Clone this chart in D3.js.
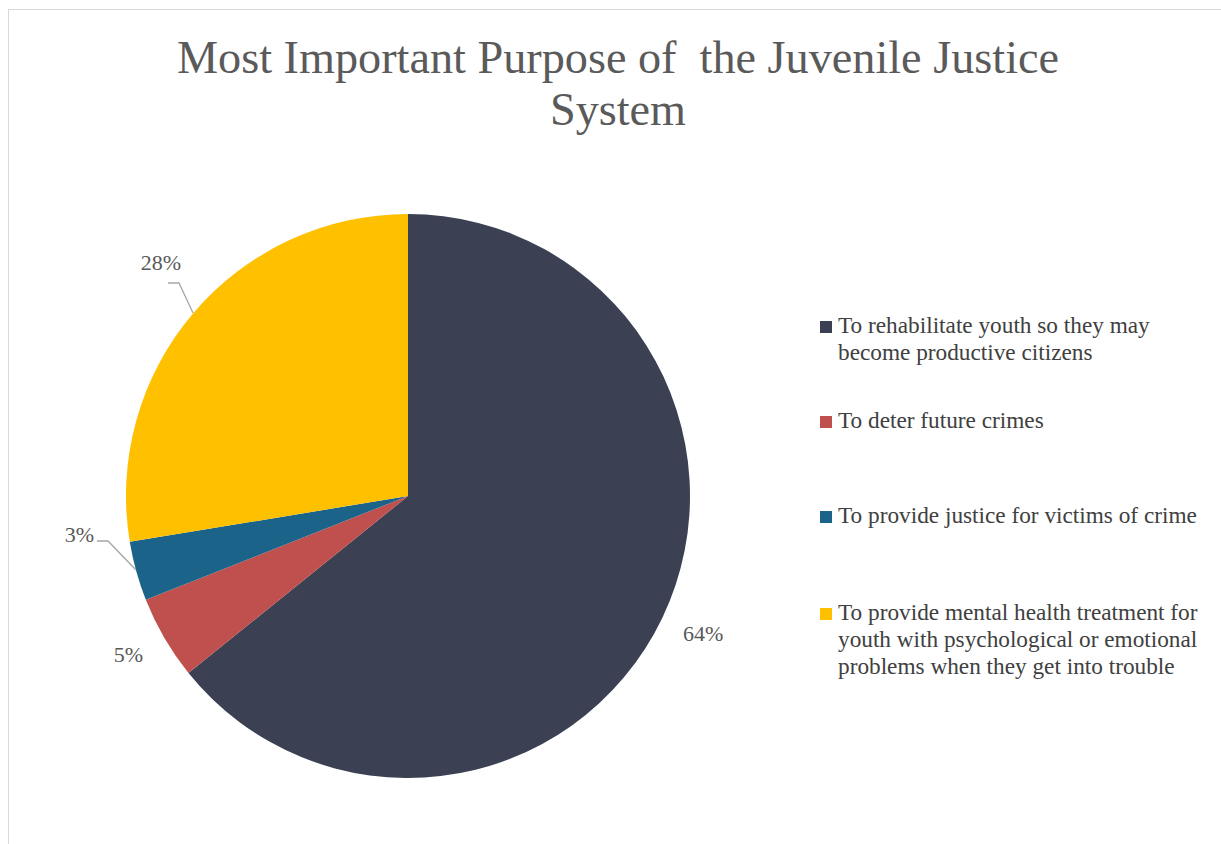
<!DOCTYPE html>
<html><head><meta charset="utf-8">
<script src="https://cdn.jsdelivr.net/npm/d3@7"></script>
<style>body{margin:0;background:#fff}svg{display:block}</style>
</head><body><svg id="c" width="1221" height="844"></svg>
<script>
const categories = [
  "To rehabilitate youth so they may become productive citizens",
  "To deter future crimes",
  "To provide justice for victims of crime",
  "To provide mental health treatment for youth with psychological or emotional problems when they get into trouble"
];
const values = [64.2, 4.8, 3.4, 27.6];
const colors = ["#3b4152", "#c0504d", "#1b6388", "#ffc000"];
const legendLines = [
  ["To rehabilitate youth so they may", "become productive citizens"],
  ["To deter future crimes"],
  ["To provide justice for victims of crime"],
  ["To provide mental health treatment for", "youth with psychological or emotional", "problems when they get into trouble"]
];
const titleLines = ["Most Important Purpose of  the Juvenile Justice", "System"];

const font = "Liberation Serif, DejaVu Serif, serif";
const svg = d3.select("#c");
svg.append("rect").attr("x", 8.5).attr("y", 9.5).attr("width", 1300).attr("height", 900)
  .attr("fill", "#fff").attr("stroke", "#d9d9d9").attr("stroke-width", 1);

const title = svg.append("g").selectAll("text").data(titleLines).join("text")
  .attr("x", 618).attr("y", (d, i) => 73 + i * 52)
  .attr("text-anchor", "middle").style("font-family", font).attr("font-size", 43)
  .attr("fill", "#5a5a5a").style("white-space", "pre").text(d => d);
const tw = title.nodes()[0].getComputedTextLength();
title.attr("font-size", 43 * Math.min(1.15, 882 / tw));
title.filter((d, i) => i === 0).attr("textLength", 882).attr("lengthAdjust", "spacing");

const cx = 408, cy = 496, r = 282;
const pie = d3.pie().sort(null).value(d => d)(values);
const arc = d3.arc().innerRadius(0).outerRadius(r);
const g = svg.append("g").attr("transform", `translate(${cx},${cy})`);
g.selectAll("path").data(pie).join("path").attr("d", arc).attr("fill", (d, i) => colors[i]);

const fmt = v => Math.round(v) + "%";
const labelPos = [
  {x: 275, y: 145, anchor: "start"},
  {x: -265, y: 166, anchor: "end"},
  {x: -314, y: 46, anchor: "end"},
  {x: -227, y: -226, anchor: "end"}
];
const leaders = [
  null, null,
  [[-311, 45], [-300, 45], [-272, 74]],
  [[-240, -213], [-229, -213], [-215, -183]]
];
g.selectAll("polyline").data(leaders.filter(d => d)).join("polyline")
  .attr("points", d => d.map(p => p.join(",")).join(" "))
  .attr("fill", "none").attr("stroke", "#a6a6a6").attr("stroke-width", 1.3);
g.selectAll("text.lbl").data(pie).join("text").attr("class", "lbl")
  .attr("x", (d, i) => labelPos[i].x).attr("y", (d, i) => labelPos[i].y)
  .attr("text-anchor", (d, i) => labelPos[i].anchor)
  .style("font-family", font).attr("font-size", 22).attr("fill", "#595959")
  .text(d => fmt(d.data));

const legY = [333, 428, 523, 620];
const lg = svg.append("g");
categories.forEach((c, i) => {
  const it = lg.append("g").attr("transform", `translate(820,${legY[i]})`);
  it.append("rect").attr("x", 0).attr("y", -12).attr("width", 12).attr("height", 12).attr("fill", colors[i]);
  it.selectAll("text").data(legendLines[i]).join("text")
    .attr("x", 18).attr("y", (d, j) => j * 27)
    .style("font-family", font).attr("font-size", 20).attr("fill", "#404040").text(d => d);
});
const lt = lg.selectAll("text");
const lw = lt.nodes()[0].getComputedTextLength();
lt.attr("font-size", 20 * Math.min(1.2, 312 / lw));
</script></body></html>
